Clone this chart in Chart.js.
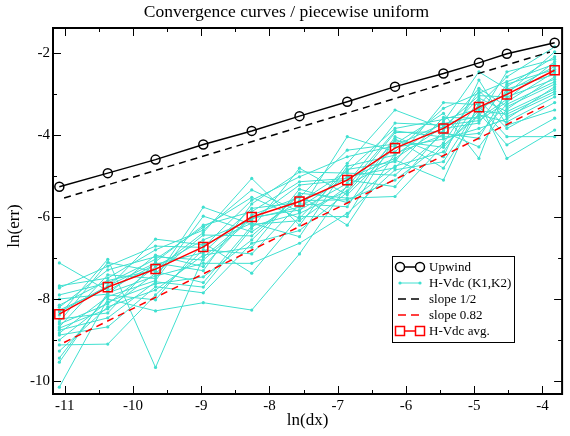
<!DOCTYPE html>
<html>
<head>
<meta charset="utf-8">
<script src="https://cdn.jsdelivr.net/npm/chart.js@4.4.1/dist/chart.umd.min.js"></script>
<style>
  html, body { margin: 0; padding: 0; background: #fff; }
  #wrap { width: 570px; height: 436px; }
</style>
</head>
<body>
<div id="wrap"><canvas id="c" width="570" height="436"></canvas></div>
<script>
// ---------- data ----------
const chartTitle = 'Convergence curves / piecewise uniform';
const xTitle = 'ln(dx)';
const yTitle = 'ln(err)';

// ln(dx) of the refinement levels
const lnDx = [-11.08, -10.37, -9.67, -8.97, -8.26, -7.56, -6.86, -6.16, -5.45, -4.93, -4.52, -3.82];

const upwind = [-5.26, -4.93, -4.60, -4.23, -3.90, -3.54, -3.19, -2.82, -2.50, -2.24, -2.02, -1.75];
const hvdcAvg = [-8.37, -7.71, -7.27, -6.73, -6.00, -5.62, -5.10, -4.32, -3.84, -3.32, -3.01, -2.42];

// reference slope lines: end points
const slopeHalfX = [-11.01, -3.89];
const slopeHalfY = [-5.535, -1.975];
const slope082X = [-11.01, -3.91];
const slope082Y = [-9.06, -3.24];

// H-Vdc (K1,K2) individual curves
const hvdc01 = [-7.12, -7.80, -7.15, -6.87, -5.79, -5.64, -4.88, -3.84, -3.62, -3.36, -3.00, -1.97];
const hvdc02 = [-7.68, -7.49, -6.80, -6.32, -5.34, -5.87, -4.04, -4.41, -3.35, -2.98, -2.70, -2.27];
const hvdc03 = [-7.73, -7.20, -6.71, -6.74, -5.59, -5.02, -4.53, -4.26, -3.72, -3.55, -2.46, -2.15];
const hvdc04 = [-7.90, -7.61, -7.03, -6.25, -5.52, -6.03, -4.84, -4.65, -3.21, -3.26, -2.58, -1.85];
const hvdc05 = [-8.00, -7.88, -6.93, -7.21, -5.95, -5.52, -4.37, -4.22, -3.47, -4.57, -2.82, -2.09];
const hvdc06 = [-8.15, -7.55, -7.29, -6.38, -5.06, -6.20, -4.69, -3.39, -3.84, -3.71, -2.76, -2.40];
const hvdc07 = [-8.20, -7.29, -6.97, -7.05, -6.04, -5.76, -5.02, -4.80, -3.57, -3.59, -3.13, -2.21];
const hvdc08 = [-8.27, -7.73, -6.54, -6.68, -6.15, -6.48, -4.76, -4.49, -3.68, -2.46, -2.88, -2.52];
const hvdc09 = [-8.32, -7.68, -7.12, -7.31, -5.68, -4.90, -4.93, -4.98, -3.96, -4.08, -2.94, -2.33];
const hvdc10 = [-8.39, -7.03, -9.67, -6.98, -6.01, -5.83, -5.18, -3.71, -3.76, -3.65, -3.19, -2.46];
const hvdc11 = [-8.49, -8.34, -7.09, -6.20, -5.87, -5.14, -5.06, -4.57, -3.80, -3.04, -3.07, -2.64];
const hvdc12 = [-8.56, -7.11, -7.33, -7.60, -6.22, -5.91, -5.36, -3.94, -3.92, -4.29, -3.37, -2.58];
const hvdc13 = [-8.61, -8.12, -7.21, -6.56, -6.07, -5.22, -5.10, -5.26, -3.88, -2.86, -3.31, -2.76];
const hvdc14 = [-8.68, -7.41, -7.50, -5.76, -6.18, -6.09, -5.26, -3.90, -4.05, -3.96, -3.25, -2.70];
const hvdc15 = [-8.71, -8.24, -7.37, -6.44, -6.46, -5.47, -6.20, -4.45, -4.00, -3.10, -3.43, -2.88];
const hvdc16 = [-8.76, -8.46, -7.58, -7.71, -6.28, -4.81, -5.46, -4.30, -4.10, -3.84, -3.61, -2.82];
const hvdc17 = [-8.83, -7.94, -7.55, -5.98, -6.36, -5.60, -5.58, -5.10, -4.20, -2.92, -3.55, -3.00];
const hvdc18 = [-8.88, -8.68, -7.70, -7.85, -6.64, -6.33, -5.40, -4.14, -4.30, -3.41, -3.49, -2.94];
const hvdc19 = [-9.00, -8.07, -7.63, -7.46, -6.56, -5.42, -5.54, -5.50, -4.25, -3.51, -3.68, -3.07];
const hvdc20 = [-9.12, -9.10, -7.90, -6.80, -6.90, -5.68, -5.75, -4.04, -4.53, -2.66, -3.76, -3.39];
const hvdc21 = [-9.27, -8.19, -7.78, -6.93, -6.74, -5.32, -5.65, -4.76, -4.41, -3.15, -3.84, -3.21];
const hvdc22 = [-9.44, -7.90, -8.02, -6.63, -7.37, -5.99, -5.99, -4.09, -4.81, -3.46, -4.24, -3.59];
const hvdc23 = [-9.54, -7.85, -7.44, -7.13, -7.13, -6.64, -5.91, -4.85, -4.65, -3.31, -4.04, -4.04];
const hvdc24 = [-10.15, -8.00, -8.29, -8.09, -8.27, -6.90, -5.22, -4.61, -5.10, -3.21, -4.57, -3.88];
const hvdcSeries = [hvdc01, hvdc02, hvdc03, hvdc04, hvdc05, hvdc06, hvdc07, hvdc08, hvdc09, hvdc10, hvdc11, hvdc12,
                    hvdc13, hvdc14, hvdc15, hvdc16, hvdc17, hvdc18, hvdc19, hvdc20, hvdc21, hvdc22, hvdc23, hvdc24];

// axes
const xRange = [-11.173, -3.711];
const yRange = [-10.317, -1.39];
const xTickLabels = [-11, -10, -9, -8, -7, -6, -5, -4];
const xMinorTicks = [-10.5, -9.5, -8.5, -7.5, -6.5, -5.5, -4.5];
const yTickLabels = [-10, -8, -6, -4, -2];
const yMinorTicks = [-9, -7, -5, -3];

const legendNames = ['Upwind', 'H-Vdc (K1,K2)', 'slope 1/2', 'slope 0.82', 'H-Vdc avg.'];

// ---------- styles ----------
const CYAN = '#40E0D0';
const RED = '#FF0000';
const FONT = "'Liberation Serif', 'Times New Roman', serif";

const pts = (xs, ys) => xs.map((v, i) => ({ x: v, y: ys[i] }));

const datasets = [
  { label: legendNames[0], data: pts(lnDx, upwind), borderColor: '#000', borderWidth: 1.5,
    pointStyle: 'circle', pointRadius: 4.5, pointBorderWidth: 1.5, pointBorderColor: '#000',
    pointBackgroundColor: 'rgba(0,0,0,0)', order: 0 },
  { label: legendNames[4], data: pts(lnDx, hvdcAvg), borderColor: RED, borderWidth: 1.5,
    pointStyle: 'rect', pointRadius: 6.4, pointBorderWidth: 1.5, pointBorderColor: RED,
    pointBackgroundColor: 'rgba(0,0,0,0)', order: 1 },
  { label: legendNames[2], data: pts(slopeHalfX, slopeHalfY), borderColor: '#000', borderWidth: 1.5,
    borderDash: [7, 5], pointRadius: 0, order: 2 },
  { label: legendNames[3], data: pts(slope082X, slope082Y), borderColor: RED, borderWidth: 1.5,
    borderDash: [7, 5], pointRadius: 0, order: 3 },
];
hvdcSeries.forEach((s, i) => {
  datasets.push({ label: i === 0 ? legendNames[1] : '', data: pts(lnDx, s), borderColor: CYAN, borderWidth: 1,
    pointStyle: 'circle', pointRadius: 1.6, pointBorderWidth: 0, pointBackgroundColor: CYAN, order: 10 + i });
});

// ---------- custom plugin: frame, inward ticks, titles, legend ----------
const decor = {
  id: 'decor',
  afterDatasetsDraw(chart) {
    const { ctx, chartArea: a, scales: { x, y } } = chart;
    ctx.save();
    ctx.strokeStyle = '#000';
    ctx.lineWidth = 1;
    ctx.beginPath();
    const xt = (vals, len) => vals.forEach(v => {
      const p = Math.round(x.getPixelForValue(v)) + 0.5;
      ctx.moveTo(p, a.bottom); ctx.lineTo(p, a.bottom - len);
      ctx.moveTo(p, a.top); ctx.lineTo(p, a.top + len);
    });
    const yt = (vals, len) => vals.forEach(v => {
      const p = Math.round(y.getPixelForValue(v)) + 0.5;
      ctx.moveTo(a.left, p); ctx.lineTo(a.left + len, p);
      ctx.moveTo(a.right, p); ctx.lineTo(a.right - len, p);
    });
    xt(xTickLabels, 8); xt(xMinorTicks, 4);
    yt(yTickLabels, 8); yt(yMinorTicks, 4);
    ctx.stroke();
    ctx.lineWidth = 2;
    ctx.strokeRect(a.left, a.top, a.right - a.left, a.bottom - a.top);
    ctx.restore();
  },
  afterDraw(chart) {
    const { ctx, chartArea: a } = chart;
    ctx.save();
    ctx.fillStyle = '#000';
    ctx.font = `17.5px ${FONT}`;
    ctx.textAlign = 'center';
    ctx.textBaseline = 'alphabetic';
    ctx.fillText(chartTitle, 286.5, 17);
    ctx.font = `17px ${FONT}`;
    ctx.textBaseline = 'middle';
    ctx.fillText(xTitle, (a.left + a.right) / 2, 421);
    ctx.save();
    ctx.translate(15, 226);
    ctx.rotate(-Math.PI / 2);
    ctx.fillText(yTitle, 0, 0);
    ctx.restore();

    // legend
    const bx = 392, by = 256, bw = 122, bh = 86;
    ctx.fillStyle = '#fff';
    ctx.fillRect(bx, by, bw, bh);
    ctx.strokeStyle = '#000';
    ctx.lineWidth = 1;
    ctx.strokeRect(bx + 0.5, by + 0.5, bw, bh);
    const rowY = [267, 283, 299, 315, 331];
    const x0 = 400, x1 = 420;
    ctx.font = `13px ${FONT}`;
    ctx.textAlign = 'left';
    ctx.textBaseline = 'middle';
    legendNames.forEach((name, i) => {
      const yy = rowY[i];
      ctx.save();
      if (i === 0) {
        ctx.strokeStyle = '#000'; ctx.lineWidth = 1.5;
        ctx.beginPath(); ctx.moveTo(x0 + 4.5, yy); ctx.lineTo(x1 - 4.5, yy); ctx.stroke();
        [x0, x1].forEach(cx => { ctx.beginPath(); ctx.arc(cx, yy, 4.5, 0, Math.PI * 2); ctx.stroke(); });
      } else if (i === 1) {
        ctx.strokeStyle = CYAN; ctx.fillStyle = CYAN; ctx.lineWidth = 1;
        ctx.beginPath(); ctx.moveTo(x0, yy); ctx.lineTo(x1, yy); ctx.stroke();
        [x0, x1].forEach(cx => { ctx.beginPath(); ctx.arc(cx, yy, 1.6, 0, Math.PI * 2); ctx.fill(); });
      } else if (i === 2 || i === 3) {
        ctx.strokeStyle = i === 2 ? '#000' : RED; ctx.lineWidth = 1.5;
        ctx.setLineDash([8, 5]);
        ctx.beginPath(); ctx.moveTo(398, yy); ctx.lineTo(420, yy); ctx.stroke();
      } else {
        ctx.strokeStyle = RED; ctx.lineWidth = 1.5;
        ctx.beginPath(); ctx.moveTo(x0 + 4.5, yy); ctx.lineTo(x1 - 4.5, yy); ctx.stroke();
        [x0, x1].forEach(cx => ctx.strokeRect(cx - 4.5, yy - 4.5, 9, 9));
      }
      ctx.restore();
      ctx.fillStyle = '#000';
      ctx.fillText(name, 429, yy + 0.5);
    });
    ctx.restore();
  }
};

new Chart(document.getElementById('c'), {
  type: 'line',
  data: { datasets },
  options: {
    responsive: false,
    devicePixelRatio: 1,
    animation: false,
    layout: { padding: { top: 28, right: 1, left: 0, bottom: 0 } },
    plugins: { legend: { display: false }, tooltip: { enabled: false }, title: { display: false } },
    elements: { line: { tension: 0 } },
    scales: {
      x: {
        type: 'linear', min: xRange[0], max: xRange[1],
        grid: { display: false, drawTicks: false }, border: { display: false },
        afterBuildTicks: s => { s.ticks = xTickLabels.map(v => ({ value: v })); },
        afterFit: s => { s.height = 42; },
        ticks: { padding: 3, color: '#000', font: { family: FONT, size: 15 },
                 maxRotation: 0, autoSkip: false, callback: v => String(v) }
      },
      y: {
        type: 'linear', min: yRange[0], max: yRange[1],
        grid: { display: false, drawTicks: false }, border: { display: false },
        afterBuildTicks: s => { s.ticks = yTickLabels.map(v => ({ value: v })); },
        afterFit: s => { s.width = 53; },
        ticks: { padding: 3, color: '#000', font: { family: FONT, size: 15 },
                 autoSkip: false, callback: v => String(v) }
      }
    }
  },
  plugins: [decor]
});
</script>
</body>
</html>
